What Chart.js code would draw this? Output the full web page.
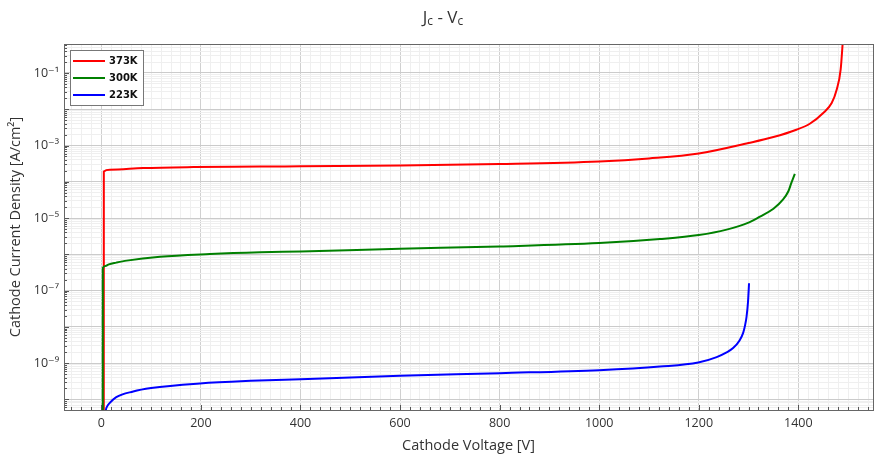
<!DOCTYPE html>
<html>
<head>
<meta charset="utf-8">
<script src="https://cdn.jsdelivr.net/npm/chart.js@4.4.1/dist/chart.umd.min.js"></script>
<style>
  body { margin: 0; background: #fff; }
  #wrap { position: relative; width: 875px; height: 455px; }
  #title {
    position: absolute; top: 5px; left: 0; width: 886px; text-align: center;
    font-family: 'Open Sans', 'DejaVu Sans', sans-serif; font-size: 17px; color: #333;
  }
  #title sub { font-size: 70%; vertical-align: -2px; }
</style>
</head>
<body>
<div id="wrap">
  <canvas id="jv" width="875" height="455"></canvas>
  <div id="title">J<sub>c</sub> - V<sub>c</sub></div>
</div>
<script>
// values (V in volts, J in A/cm^2)
var vRed = [4.9, 5, 17, 84, 185, 319, 400, 600, 800, 1000, 1100, 1200, 1300, 1350, 1396, 1423, 1450, 1467, 1477, 1485, 1490];
var jRed = [1e-11, 1.93e-4, 2.15e-4, 2.4e-4, 2.55e-4, 2.62e-4, 2.68e-4, 2.82e-4, 3.09e-4, 3.64e-4, 4.4e-4, 6.0e-4, 1.17e-3, 1.71e-3, 2.73e-3, 3.98e-3, 7.9e-3, 1.48e-2, 3.46e-2, 0.123, 1.0];

var vGreen = [2.9, 3, 8, 15, 30, 51, 118, 218, 319, 400, 600, 800, 1000, 1122, 1200, 1256, 1300, 1323, 1350, 1369, 1380, 1386, 1393];
var jGreen = [1e-11, 4.2e-7, 4.8e-7, 5.3e-7, 5.9e-7, 6.7e-7, 8.6e-7, 1.02e-6, 1.14e-6, 1.2e-6, 1.42e-6, 1.65e-6, 2.04e-6, 2.64e-6, 3.4e-6, 4.8e-6, 7.5e-6, 1.1e-5, 1.8e-5, 3.2e-5, 5.5e-5, 9.3e-5, 1.66e-4];

var vBlue = [6, 9, 12, 17, 30, 64, 100, 198, 300, 400, 600, 800, 1000, 1122, 1199, 1236, 1255, 1269, 1282, 1289, 1293, 1296, 1299, 1301];
var jBlue = [2e-11, 5e-11, 6.5e-11, 8e-11, 1.15e-10, 1.65e-10, 2.05e-10, 2.75e-10, 3.25e-10, 3.62e-10, 4.47e-10, 5.3e-10, 6.4e-10, 8.05e-10, 1.04e-9, 1.47e-9, 1.95e-9, 2.6e-9, 4.2e-9, 6.7e-9, 1.1e-8, 1.9e-8, 5e-8, 1.6e-7];

var seriesNames = ['373K', '300K', '223K'];
var seriesColors = ['rgb(255,0,0)', 'rgb(0,128,0)', 'rgb(0,0,255)'];

var xMin = -75, xMax = 1550;
var yMin = 5.1e-11, yMax = 0.63;
var xStep = 20, xLabelStep = 200;

function pairs(xs, ys) {
  var out = [];
  for (var i = 0; i < xs.length; i++) out.push({x: xs[i], y: ys[i]});
  return out;
}

var sup = {'-': '\u207B', '0': '\u2070', '1': '\u00B9', '2': '\u00B2', '3': '\u00B3', '4': '\u2074',
           '5': '\u2075', '6': '\u2076', '7': '\u2077', '8': '\u2078', '9': '\u2079'};
function decadeOf(v) {
  var e = Math.round(Math.log10(v));
  return Math.abs(v / Math.pow(10, e) - 1) < 1e-6 ? e : null;
}

var font = "'Open Sans', 'DejaVu Sans', sans-serif";

var frame = {
  id: 'frame',
  afterDraw: function(chart) {
    var c = chart.ctx, a = chart.chartArea;
    var xs = chart.scales.x, ys = chart.scales.y;
    c.save();
    c.strokeStyle = '#555';
    c.lineWidth = 1;
    // inward tick marks
    c.beginPath();
    xs.ticks.forEach(function(t) {
      var px = Math.round(xs.getPixelForValue(t.value)) + 0.5;
      var len = t.value % xLabelStep === 0 ? 5 : 3;
      c.moveTo(px, a.bottom); c.lineTo(px, a.bottom - len);
    });
    ys.ticks.forEach(function(t) {
      var py = Math.round(ys.getPixelForValue(t.value)) + 0.5;
      var len = decadeOf(t.value) !== null ? 5 : 3;
      c.moveTo(a.left, py); c.lineTo(a.left + len, py);
    });
    c.stroke();
    c.strokeStyle = '#666';
    c.strokeRect(Math.round(a.left) + 0.5, Math.round(a.top) + 0.5, Math.round(a.right - a.left), Math.round(a.bottom - a.top));

    // legend box
    var lx = a.left + 6, ly = a.top + 6;
    c.fillStyle = '#fff';
    c.fillRect(lx, ly, 73, 55);
    c.strokeStyle = '#777';
    c.strokeRect(Math.round(lx) + 0.5, Math.round(ly) + 0.5, 73, 55);
    c.font = "bold 10px 'DejaVu Sans', sans-serif";
    c.textBaseline = 'middle';
    chart.data.datasets.forEach(function(ds, i) {
      var yy = ly + 11 + i * 17;
      c.strokeStyle = ds.borderColor;
      c.lineWidth = 2;
      c.beginPath(); c.moveTo(lx + 3, yy); c.lineTo(lx + 35, yy); c.stroke();
      c.fillStyle = '#111';
      c.fillText(ds.label, lx + 39, yy + 0.5);
    });
    c.restore();
  }
};

new Chart(document.getElementById('jv'), {
  type: 'line',
  data: {
    datasets: [
      {label: seriesNames[0], data: pairs(vRed, jRed), borderColor: seriesColors[0], order: 3},
      {label: seriesNames[1], data: pairs(vGreen, jGreen), borderColor: seriesColors[1], order: 2},
      {label: seriesNames[2], data: pairs(vBlue, jBlue), borderColor: seriesColors[2], order: 1}
    ]
  },
  options: {
    responsive: false,
    animation: false,
    parsing: false,
    layout: {padding: {top: 44, right: 2, left: 0, bottom: 0}},
    elements: {
      point: {radius: 0},
      line: {borderWidth: 2, cubicInterpolationMode: 'monotone', fill: false}
    },
    plugins: {
      legend: {display: false},
      tooltip: {enabled: false}
    },
    scales: {
      x: {
        type: 'linear',
        min: xMin, max: xMax,
        afterBuildTicks: function(s) {
          var t = [];
          for (var v = Math.ceil(xMin / xStep) * xStep; v <= xMax; v += xStep) t.push({value: v});
          s.ticks = t;
        },
        afterFit: function(s) { s.height = 45; },
        ticks: {
          autoSkip: false, maxRotation: 0, padding: 6, color: '#333',
          font: {family: font, size: 12.5},
          callback: function(v) { return v % xLabelStep === 0 ? String(v) : ''; }
        },
        grid: {
          drawTicks: false,
          color: function(ctx) { return ctx.tick && ctx.tick.value % xLabelStep === 0 ? '#d0d0d0' : '#efefef'; }
        },
        border: {display: false},
        title: {display: true, text: 'Cathode Voltage [V]', color: '#333',
                font: {family: font, size: 14.5}, padding: {top: 4, bottom: 0}}
      },
      y: {
        type: 'logarithmic',
        min: yMin, max: yMax,
        afterBuildTicks: function(s) {
          var t = [];
          for (var d = -12; d <= 0; d++) {
            for (var m = 1; m <= 9; m++) {
              var v = m * Math.pow(10, d);
              if (v >= yMin && v <= yMax) t.push({value: v});
            }
          }
          s.ticks = t;
        },
        afterFit: function(s) { s.width = 64; },
        ticks: {
          autoSkip: false, padding: 5, color: '#333',
          font: {family: font, size: 12.5},
          callback: function(v) {
            var e = decadeOf(v);
            if (e === null || Math.abs(e) % 2 !== 1) return '';
            return '10' + String(e).split('').map(function(ch) { return sup[ch]; }).join('');
          }
        },
        grid: {
          drawTicks: false,
          color: function(ctx) { return ctx.tick && decadeOf(ctx.tick.value) !== null ? '#cbcbcb' : '#efefef'; }
        },
        border: {display: false},
        title: {display: true, text: 'Cathode Current Density [A/cm\u00B2]', color: '#333',
                font: {family: font, size: 14.5}, padding: {top: 7, bottom: 2}}
      }
    }
  },
  plugins: [frame]
});
</script>
</body>
</html>
